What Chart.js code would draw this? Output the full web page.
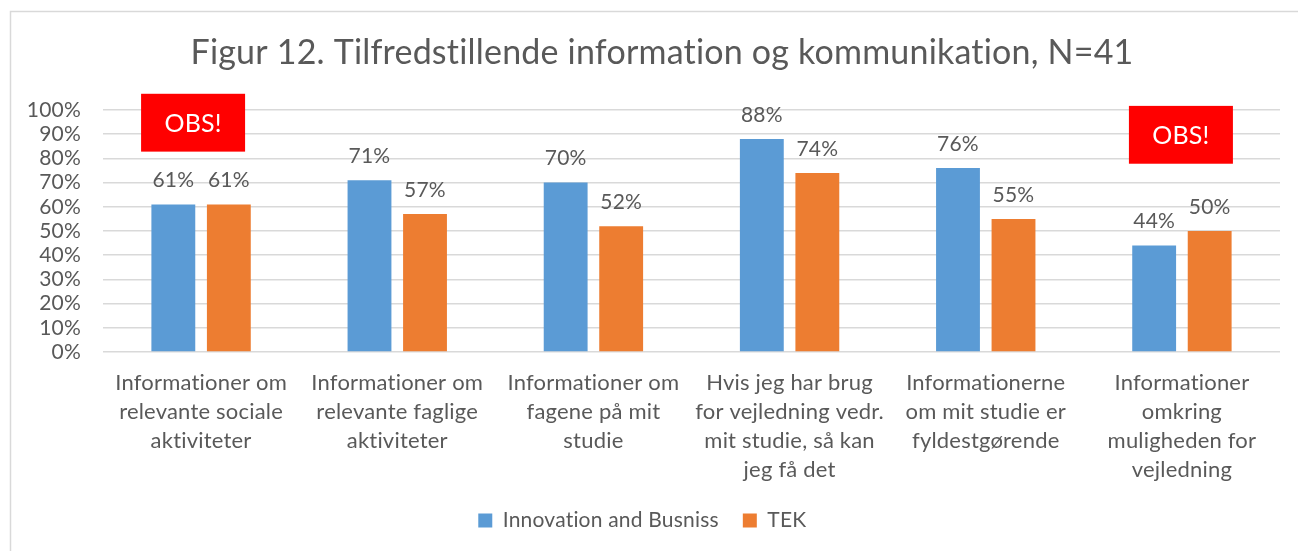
<!DOCTYPE html>
<html>
<head>
<meta charset="utf-8">
<script src="https://cdn.jsdelivr.net/npm/chart.js@4/dist/chart.umd.min.js"></script>
<style>
  html, body { margin: 0; padding: 0; background: #fff; }
  #wrap { width: 1298px; height: 551px; position: relative; }
</style>
</head>
<body>
<div id="wrap"><canvas id="chart"></canvas></div>
<script>
// ─── Data ────────────────────────────────────────────────────────────────────
const TITLE = 'Figur 12. Tilfredstillende information og kommunikation, N=41';

const categories = [
  ['Informationer om', 'relevante sociale', 'aktiviteter'],
  ['Informationer om', 'relevante faglige', 'aktiviteter'],
  ['Informationer om', 'fagene på mit', 'studie'],
  ['Hvis jeg har brug', 'for vejledning vedr.', 'mit studie, så kan', 'jeg få det'],
  ['Informationerne', 'om mit studie er', 'fyldestgørende'],
  ['Informationer', 'omkring', 'muligheden for', 'vejledning'],
];

const seriesNames = ['Innovation and Busniss', 'TEK'];
const innovationValues = [61, 71, 70, 88, 76, 44];
const tekValues = [61, 57, 52, 74, 55, 50];

const yTicks = [0, 10, 20, 30, 40, 50, 60, 70, 80, 90, 100];

// OBS! callouts: category index + vertical extent in axis units
const obsCallouts = [
  { cat: 0, top: 106.7, bottom: 82.8, dx: -8 },
  { cat: 5, top: 101.7, bottom: 77.8, dx: -1 },
];

// ─── Styles ──────────────────────────────────────────────────────────────────
const FONT = 'Lato, "Open Sans", sans-serif';
const TEXT = '#595959';
const GRID = '#d9d9d9';
const BLUE = '#5b9bd5';
const ORANGE = '#ed7d31';

// ─── Plugins ─────────────────────────────────────────────────────────────────
// letterSpacing > 0 switches off Lato's "ti" ligature
const noLigatures = {
  id: 'noLigatures',
  beforeInit(chart) { chart.ctx.letterSpacing = '0.2px'; },
  beforeDraw(chart) { chart.ctx.letterSpacing = '0.2px'; },
};

const framePlugin = {
  id: 'frame',
  beforeDraw(chart) {
    const { ctx, width, height } = chart;
    ctx.save();
    ctx.strokeStyle = GRID;
    ctx.lineWidth = 1.5;
    ctx.beginPath();
    ctx.moveTo(10.5, height);
    ctx.lineTo(10.5, 11.5);
    ctx.lineTo(width, 11.5);
    ctx.stroke();
    ctx.restore();
  },
};

const titlePlugin = {
  id: 'bigTitle',
  afterDraw(chart) {
    const { ctx } = chart;
    ctx.save();
    ctx.fillStyle = TEXT;
    ctx.font = `34px ${FONT}`;
    ctx.textAlign = 'center';
    ctx.textBaseline = 'middle';
    ctx.fillText(TITLE, 662, 53);
    ctx.restore();
  },
};

const valueLabels = {
  id: 'valueLabels',
  afterDatasetsDraw(chart) {
    const { ctx } = chart;
    ctx.save();
    ctx.fillStyle = TEXT;
    ctx.font = `21px ${FONT}`;
    ctx.textAlign = 'center';
    ctx.textBaseline = 'middle';
    chart.data.datasets.forEach((ds, i) => {
      chart.getDatasetMeta(i).data.forEach((bar, j) => {
        ctx.fillText(`${ds.data[j]}%`, bar.x, bar.y - 24);
      });
    });
    ctx.restore();
  },
};

const obsPlugin = {
  id: 'obs',
  afterDraw(chart) {
    const { ctx, scales: { x, y } } = chart;
    ctx.save();
    for (const c of obsCallouts) {
      const cx = x.getPixelForValue(c.cat) + c.dx;
      const top = y.getPixelForValue(c.top);
      const bottom = y.getPixelForValue(c.bottom);
      const w = 104;
      ctx.fillStyle = '#ff0000';
      ctx.fillRect(cx - w / 2, top, w, bottom - top);
      ctx.fillStyle = '#fff';
      ctx.font = `25px ${FONT}`;
      ctx.textAlign = 'center';
      ctx.textBaseline = 'middle';
      ctx.fillText('OBS!', cx, (top + bottom) / 2 + 1);
    }
    ctx.restore();
  },
};

// ─── Chart ───────────────────────────────────────────────────────────────────
new Chart(document.getElementById('chart'), {
  type: 'bar',
  data: {
    labels: categories,
    datasets: [
      { label: seriesNames[0], data: innovationValues, backgroundColor: BLUE },
      { label: seriesNames[1], data: tekValues, backgroundColor: ORANGE },
    ],
  },
  options: {
    responsive: true,
    maintainAspectRatio: false,
    animation: false,
    datasets: {
      bar: { categoryPercentage: 0.566, barPercentage: 0.79 },
    },
    layout: { padding: { top: 110, right: 18, left: 0, bottom: 10 } },
    plugins: {
      title: { display: false },
      tooltip: { enabled: false },
      legend: {
        position: 'bottom',
        labels: {
          color: TEXT,
          font: { family: FONT, size: 21 },
          boxWidth: 14,
          boxHeight: 14,
          padding: 24,
        },
      },
    },
    scales: {
      x: {
        grid: { display: false, drawTicks: false },
        border: { display: false },
        ticks: {
          color: TEXT,
          font: { family: FONT, size: 22, lineHeight: 1.32 },
          padding: 16,
          maxRotation: 0,
          autoSkip: false,
        },
        afterFit(scale) { scale.height = 134; },
      },
      y: {
        min: 0,
        max: 100,
        grid: { color: GRID, lineWidth: 1.5, drawTicks: false },
        border: { display: false },
        afterBuildTicks(scale) { scale.ticks = yTicks.map(v => ({ value: v })); },
        ticks: {
          color: TEXT,
          font: { family: FONT, size: 21 },
          padding: 22,
          autoSkip: false,
          callback: v => `${v}%`,
        },
        afterFit(scale) { scale.width = 103; },
      },
    },
  },
  plugins: [noLigatures, framePlugin, titlePlugin, valueLabels, obsPlugin],
});
</script>
</body>
</html>
